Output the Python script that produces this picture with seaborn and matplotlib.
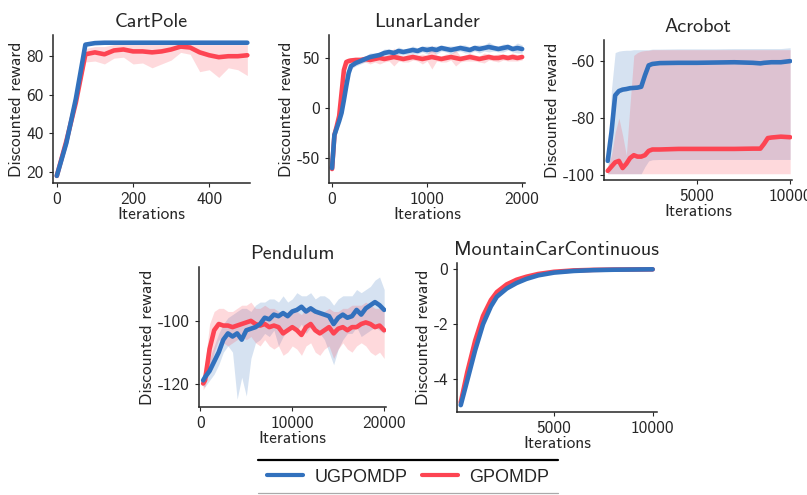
import numpy as np
import matplotlib
matplotlib.use("Agg")
import matplotlib.pyplot as plt
from matplotlib.lines import Line2D
import seaborn as sns

# colours of the two methods
BLUE = "#3271bd"
RED = "#fd4452"

# ---------------- CartPole ----------------
cp_x = [0, 25, 50, 75, 100, 125, 150, 175, 200, 225, 250, 275, 300, 325, 350, 375, 400, 425, 450, 475, 500]
cp_ug = [18, 35, 58, 86, 86.8, 87, 87, 87, 87, 87, 87, 87, 87, 87, 87, 87, 87, 87, 87, 87, 87]
cp_g = [18, 36, 56, 81, 82, 81, 83, 83.5, 82.5, 82.5, 82, 82.5, 83.5, 85, 84.5, 82, 80.5, 79.5, 80, 80, 80.5]
cp_g_lo = [18, 35, 54, 77, 77.5, 76, 79, 79.5, 76, 76.5, 74, 76, 78, 82, 81, 72, 73, 69, 74, 73, 70]
cp_g_hi = [19, 37, 60, 84, 85, 85, 86, 86, 86, 86, 86, 86, 86, 86, 86, 86, 86, 86, 86, 86, 86]

# ---------------- LunarLander ----------------
ll_x = [0, 25, 50, 75, 100, 125, 150, 175, 200] + list(range(250, 2001, 50))
ll_ug = [-60, -27, -20, -13, -5, 8, 22, 35, 42,
         45, 47, 49, 51, 52, 53, 55, 56, 55, 57, 56, 57, 58, 57, 59, 58, 59, 58,
         60, 59, 58, 59, 60, 59, 58, 60, 59, 60, 61, 60, 59, 60, 61, 59, 60, 59]
ll_g = [-61, -27, -18, -8, 15, 38, 46, 47, 47.5,
        48, 48, 49, 48, 49, 50, 49, 50, 51, 50, 49, 50, 51, 50, 49, 50, 51, 50,
        49, 50, 51, 50, 49, 50, 51, 50, 49, 50, 51, 50, 50, 51, 50, 51, 50, 51]
ll_ug_sd = [2, 3, 3, 3, 3, 3, 3, 3, 3,
            3, 3, 3, 4, 3, 3, 4, 3, 3, 4, 3, 3, 4, 3, 3, 4, 3, 4,
            3, 3, 4, 3, 3, 4, 3, 3, 4, 3, 5, 3, 3, 4, 3, 3, 5, 4]
ll_g_sd = [2, 3, 3, 3, 4, 4, 3, 3, 3,
           3, 3, 3, 4, 3, 6, 3, 3, 9, 3, 3, 4, 3, 3, 5, 3, 12, 3,
           3, 4, 3, 8, 3, 3, 4, 3, 3, 5, 3, 3, 4, 3, 3, 4, 3, 3]

# ---------------- Acrobot ----------------
ac_x = [200, 400, 600, 800, 1000, 1200, 1400, 1600, 1800, 2000, 2200, 2400, 2600,
        3000, 4000, 5000, 6000, 7000, 8000, 8400, 8600, 8800, 9000, 9500, 10000]
ac_ug = [-95, -85, -72, -70.5, -70, -69.8, -69.5, -69.4, -69.3, -69, -65, -61.5, -61,
         -60.7, -60.6, -60.6, -60.5, -60.4, -60.6, -60.8, -60.6, -60.5, -60.4, -60.4, -60]
ac_ug_lo = [-99.5, -99.5, -99.5, -99.5, -99.5, -99.5, -99.5, -99.5, -99.5, -99.5, -97, -95, -94.6,
            -94.5, -94.5, -94.5, -94.5, -94.5, -94.5, -94.5, -94.5, -94.5, -94.5, -94.5, -94.5]
ac_ug_hi = [-99, -70, -57, -56.5, -56.3, -56.2, -56.2, -56, -56, -56, -56, -56, -55.8,
            -55.8, -55.7, -55.7, -55.7, -55.6, -55.6, -55.6, -55.6, -55.6, -55.6, -55.6, -55.3]
ac_g = [-98.5, -97, -95.5, -95, -97.5, -96, -94, -93, -93.5, -93.5, -93, -91.5, -91,
        -91, -90.8, -90.8, -90.8, -90.8, -90.7, -90.7, -89, -87, -86.8, -86.5, -86.7]
ac_g_lo = [-99.5] * 25
ac_g_hi = [-97, -93, -85, -80, -86, -93, -75, -58, -57, -56.5, -56.3, -56.2, -56,
           -56, -56, -56, -56, -56, -56, -56, -56, -56, -56, -56, -56]

# ---------------- Pendulum ----------------
pe_x = [300] + list(range(500, 20001, 500))
pe_ug = [-119, -118, -116, -113, -110, -106, -104, -105, -104, -106, -103, -102.5, -102, -101,
         -99, -99.5, -98, -98.5, -97.5, -98.5, -97, -96.5, -95.5, -97, -96, -97, -97.5, -98,
         -98.5, -101, -99, -98, -99, -98.5, -96.5, -98, -96, -95, -94, -95, -96.5]
pe_ug_lo = [-121, -121, -119, -117, -114, -110, -108, -110, -125, -118, -124, -112, -107, -106,
            -104, -105, -103, -108, -105, -103, -102, -103, -101, -104, -102, -103, -104, -106,
            -110, -114, -109, -106, -104, -104, -102, -105, -104, -103, -102, -103, -104]
pe_ug_hi = [-117, -115, -112, -108, -104, -101, -99, -98, -97, -96, -96, -97, -95, -94,
            -94, -93, -93, -94, -92, -94, -93, -91, -92, -92, -91, -93, -92, -92,
            -93, -95, -93, -92, -92, -92, -90, -91, -90, -89, -87, -86, -90]
pe_g = [-120, -119, -109, -103, -101, -101.5, -101.5, -102, -101.5, -101, -100.5, -100, -101, -101.5,
        -101, -102, -101.5, -102, -104, -103, -102, -103, -104.5, -102, -101, -103, -104, -103,
        -102, -104, -102.5, -102, -103, -102, -102, -101, -100.5, -101, -102, -101.5, -103]
pe_g_lo = [-122, -121, -116, -110, -106, -107, -108, -107, -106, -105, -106, -105, -107, -108,
           -106, -108, -109, -108, -111, -110, -108, -109, -111, -108, -107, -110, -111, -109,
           -108, -112, -109, -107, -109, -110, -108, -107, -108, -110, -111, -110, -112]
pe_g_hi = [-117, -114, -101, -97, -96, -96, -97, -97, -96, -95, -95, -94, -96, -96,
           -95, -96, -96, -97, -98, -97, -96, -97, -98, -96, -95, -97, -98, -97,
           -96, -97, -97, -96, -96, -95, -95, -95, -94, -95, -96, -96, -97]

# ---------------- MountainCarContinuous ----------------
mc_x = [270, 600, 1000, 1400, 1800, 2100, 2600, 3100, 3600, 4200, 5000, 6000, 7000, 8000, 9000, 10000]
mc_ug = [-4.95, -4.05, -2.95, -2.0, -1.35, -1.0, -0.7, -0.5, -0.35, -0.22, -0.12, -0.06, -0.03, -0.015, -0.008, 0]
mc_g = [-4.85, -3.75, -2.6, -1.7, -1.12, -0.83, -0.55, -0.38, -0.27, -0.17, -0.09, -0.04, -0.02, -0.01, -0.005, 0]

sns.set_style("ticks")
plt.rcParams['font.family'] = ['cmss10', 'DejaVu Sans']
plt.rcParams['axes.unicode_minus'] = False
plt.rcParams['axes.formatter.use_mathtext'] = False
plt.rcParams['xtick.labelsize'] = 12.5
plt.rcParams['ytick.labelsize'] = 12.5
plt.rcParams['axes.labelsize'] = 12.5
plt.rcParams['axes.titlesize'] = 14.5
plt.rcParams['axes.linewidth'] = 1.1
plt.rcParams['xtick.major.size'] = 3
plt.rcParams['ytick.major.size'] = 3

W, H = 807, 495
fig = plt.figure(figsize=(W / 100, H / 100), dpi=100)


def make_ax(l, r, t, b):
    return fig.add_axes([l / W, 1 - b / H, (r - l) / W, (b - t) / H])


def panel(ax, title, x, ug, g, ug_band=None, g_band=None):
    if ug_band is not None:
        ax.fill_between(x, ug_band[0], ug_band[1], color=BLUE, alpha=0.2, lw=0)
    if g_band is not None:
        ax.fill_between(x, g_band[0], g_band[1], color=RED, alpha=0.2, lw=0)
    sns.lineplot(x=x, y=g, ax=ax, color=RED, lw=3.3)
    sns.lineplot(x=x, y=ug, ax=ax, color=BLUE, lw=3.3)
    ax.set_title(title)
    ax.set_xlabel("Iterations", labelpad=0)
    ax.set_ylabel("Discounted reward", labelpad=2)
    sns.despine(ax=ax)


ax = make_ax(53, 250, 35, 183)
panel(ax, "CartPole", cp_x, cp_ug, cp_g, g_band=(cp_g_lo, cp_g_hi))
ax.set_xlim(-10, 507)
ax.set_ylim(14.3, 91)
ax.set_xticks([0, 200, 400])
ax.set_yticks([20, 40, 60, 80])

ax = make_ax(329, 525, 35, 183)
ll_ug_band = (np.array(ll_ug) - np.array(ll_ug_sd), np.array(ll_ug) + np.array(ll_ug_sd))
ll_g_band = (np.array(ll_g) - np.array(ll_g_sd), np.array(ll_g) + np.array(ll_g_sd))
panel(ax, "LunarLander", ll_x, ll_ug, ll_g, ug_band=ll_ug_band, g_band=ll_g_band)
ax.set_xlim(-32, 2030)
ax.set_ylim(-75, 73)
ax.set_xticks([0, 1000, 2000])
ax.set_yticks([-50, 0, 50])

ax = make_ax(604, 792, 40, 180)
panel(ax, "Acrobot", ac_x, ac_ug, ac_g, ug_band=(ac_ug_lo, ac_ug_hi), g_band=(ac_g_lo, ac_g_hi))
ax.set_xlim(0, 10100)
ax.set_ylim(-101.7, -52.6)
ax.set_xticks([5000, 10000])
ax.set_yticks([-100, -80, -60])

ax = make_ax(199, 386, 267, 407)
panel(ax, "Pendulum", pe_x, pe_ug, pe_g, ug_band=(pe_ug_lo, pe_ug_hi), g_band=(pe_g_lo, pe_g_hi))
ax.set_xlim(-150, 20200)
ax.set_ylim(-127.5, -82.8)
ax.set_xticks([0, 10000, 20000])
ax.set_yticks([-120, -100])

ax = make_ax(457, 657, 263, 412)
panel(ax, "MountainCarContinuous", mc_x, mc_ug, mc_g)
ax.set_xlim(80, 10220)
ax.set_ylim(-5.2, 0.23)
ax.set_xticks([5000, 10000])
ax.set_yticks([-4, -2, 0])

# legend at the bottom, between two rules
handles = [Line2D([], [], color=BLUE, lw=3), Line2D([], [], color=RED, lw=3)]
fig.legend(handles, ["UGPOMDP", "GPOMDP"], loc="center", bbox_to_anchor=(408 / W, 1 - 477 / H),
           ncol=2, frameon=False, handlelength=2.0, handletextpad=0.6, columnspacing=0.8,
           prop={"family": "Liberation Sans", "size": 13})
fig.add_artist(Line2D([258 / W, 558 / W], [1 - 460 / H, 1 - 460 / H], color="black", lw=1.6))
fig.add_artist(Line2D([258 / W, 558 / W], [1 - 493 / H, 1 - 493 / H], color="#aaaaaa", lw=0.9))

fig.savefig("out.png", dpi=100)
